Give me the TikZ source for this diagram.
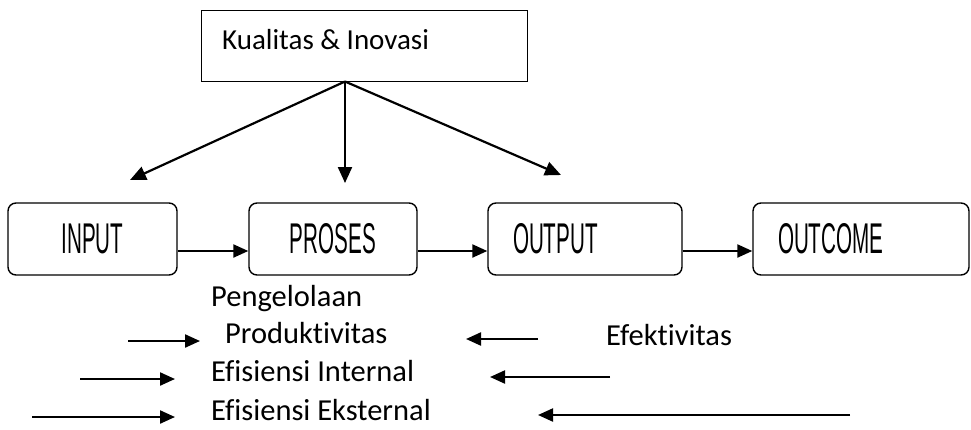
\documentclass[tikz,border=0pt]{standalone}
\usepackage{fontspec}
\setmainfont[Ligatures=NoCommon]{Carlito}
\newfontfamily\boxfont{Liberation Sans}
\usetikzlibrary{arrows.meta}
\tikzset{
  rbox/.style={draw, line width=1.4pt, rounded corners=8pt, minimum height=72pt, inner sep=0pt, font=\boxfont\fontsize{43}{46}\selectfont},
  conn/.style={line width=2.2pt, -{Triangle[length=15pt,width=13pt]}},
  topconn/.style={line width=2.2pt, -{Triangle[length=16pt,width=14pt]}},
  lbl/.style={anchor=base west, inner sep=0pt, font=\fontsize{30.5}{34}\selectfont},
}
\newcommand{\bxt}[1]{\scalebox{0.48}[1]{#1}}
\begin{document}
\begin{tikzpicture}[x=1pt,y=-1pt]
\useasboundingbox (0,0) rectangle (971,429);
% top box
\node[draw, line width=1.4pt, minimum width=326pt, minimum height=71pt, anchor=north west, inner sep=0pt] (top) at (201,10) {};
\node[anchor=base west, inner sep=0pt, font=\fontsize{29}{32}\selectfont] (toplbl) at (222,49) {Kualitas \& Inovasi};
\coordinate (src) at (345,81.5);
\coordinate (tl) at (130,180);
\coordinate (tm) at (345,183);
\coordinate (tr) at (561,175);
\draw[topconn] (src) -- (tl);
\draw[topconn] (src) -- (tm);
\draw[topconn] (src) -- (tr);
% row of boxes
\node[rbox, minimum width=169pt] (input) at (92.5,239) {\bxt{INPUT}};
\node[rbox, minimum width=168pt] (proses) at (333,239) {\bxt{PROSES}};
\node[rbox, minimum width=194pt, text width=144pt, align=left, inner xsep=25pt] (output) at (585,239) {\bxt{OUTPUT}};
\node[rbox, minimum width=216pt, text width=166pt, align=left, inner xsep=25pt] (outcome) at (861,239) {\bxt{OUTCOME}};
\draw[conn] ([yshift=-12pt]input.east) -- ([yshift=-12pt]proses.west);
\draw[conn] ([yshift=-12pt]proses.east) -- ([yshift=-12pt]output.west);
\draw[conn] ([yshift=-12pt]output.east) -- ([yshift=-12pt]outcome.west);
% lower labels
\node[lbl] (peng) at (211,306.5) {Pengelolaan};
\node[lbl] (prod) at (225,343) {Produktivitas};
\node[lbl] (efin) at (211,381.5) {Efisiensi Internal};
\node[lbl] (efek) at (211,420) {Efisiensi Eksternal};
\node[lbl] (efkt) at (606,345) {Efektivitas};
% lower arrows
\coordinate (a1s) at (128,341); \coordinate (a1e) at (200,341);
\coordinate (a2s) at (80,379);  \coordinate (a2e) at (175,379);
\coordinate (a3s) at (32,417);  \coordinate (a3e) at (175,417);
\coordinate (b1s) at (538,339); \coordinate (b1e) at (466,339);
\coordinate (b2s) at (610,377); \coordinate (b2e) at (490,377);
\coordinate (b3s) at (850,415); \coordinate (b3e) at (538,415);
\draw[conn] (a1s) -- (a1e);
\draw[conn] (a2s) -- (a2e);
\draw[conn] (a3s) -- (a3e);
\draw[conn] (b1s) -- (b1e);
\draw[conn] (b2s) -- (b2e);
\draw[conn] (b3s) -- (b3e);
\end{tikzpicture}
\end{document}
